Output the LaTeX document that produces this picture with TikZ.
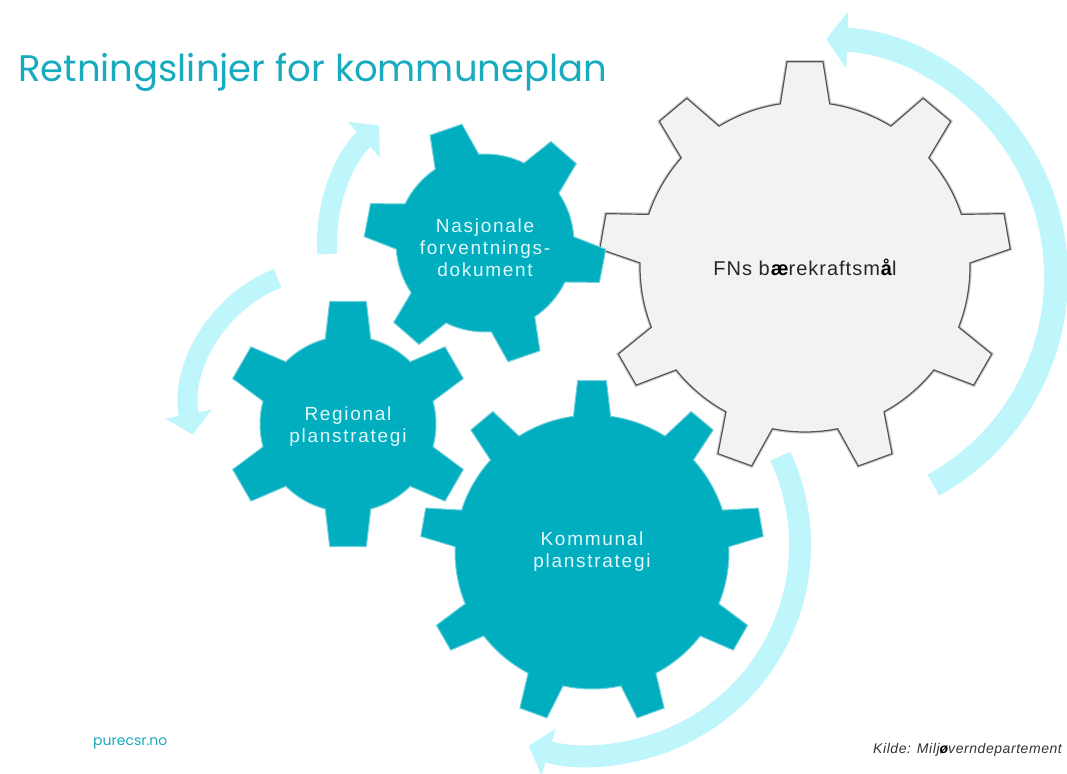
\documentclass[tikz,border=0pt]{standalone}
\usepackage{fontspec}
\setmainfont{Liberation Sans}
\newfontfamily\titlefont{Poppins}
\usetikzlibrary{arrows.meta,calc}

\definecolor{gearteal}{RGB}{0,174,192}
\definecolor{titleteal}{RGB}{24,170,190}
\definecolor{arrowcyan}{RGB}{190,246,252}
\definecolor{gearlight}{RGB}{242,242,242}
\definecolor{gearedge}{RGB}{85,85,85}
\definecolor{geartext}{RGB}{226,248,250}

% #1 centre, #2 teeth, #3 root radius, #4 tip radius, #5 turn, #6 half angle at root, #7 half angle at tip
\newcommand{\cogpath}[7]{%
  ($(#1)+({#5-#6}:#3)$)
  \foreach \k in {1,...,#2}{
    -- ($(#1)+({#5+(\k-1)*360/#2-#7}:#4)$)
    -- ($(#1)+({#5+(\k-1)*360/#2+#7}:#4)$)
    -- ($(#1)+({#5+(\k-1)*360/#2+#6}:#3)$)
    arc[start angle={#5+(\k-1)*360/#2+#6}, end angle={#5+\k*360/#2-#6}, radius=#3pt]
  } -- cycle}

\tikzset{
  cog/.style={fill=gearteal,draw=gearteal!55!white,line width=1pt},
  bigcog/.style={fill=gearlight,draw=gearedge,line width=1.2pt,preaction={draw=gray!40,line width=3.5pt}},
  cyclearrow/.style 2 args={draw=arrowcyan,line width=#1,-{Triangle[width=#2,length=21pt]}},
  cogtext/.style={text=geartext,align=center,font=\fontsize{19}{22}\selectfont\addfontfeatures{LetterSpace=9}}
}

\begin{document}
\begin{tikzpicture}[x=1pt,y=1pt]

\useasboundingbox (0,0) rectangle (1067,773);

\coordinate (fnsc) at (805,506);
\coordinate (nasc) at (485,530);
\coordinate (regc) at (348,349);
\coordinate (komc) at (592,221);

% arrows round the cogs
\draw[cyclearrow={24pt}{56pt}] ([shift={(-61:238)}]818,496) arc[start angle=-61, end angle=88, radius=238pt];
\draw[cyclearrow={22pt}{48pt}] ([shift={(25:210)}]590,228) arc[start angle=25, end angle=-107, radius=210pt];
\draw[cyclearrow={20pt}{47pt}] ([shift={(184:158)}]nasc) arc[start angle=184, end angle=132, radius=158pt];
\draw[cyclearrow={20pt}{46pt}] ([shift={(112:140)}]330,365) arc[start angle=112, end angle=191, radius=140pt];

% cogs
\draw[bigcog] \cogpath{fnsc}{9}{165}{206}{10}{8.6}{5};
\draw[cog] \cogpath{nasc}{6}{89}{121}{-11}{15}{8};
\draw[cog] \cogpath{regc}{6}{88}{124}{90}{15}{8.5};
\draw[cog] \cogpath{komc}{9}{137}{172}{10}{7.8}{4.8};

\node[font=\fontsize{20}{24}\selectfont\addfontfeatures{LetterSpace=5},text=black!85] (fns) at (fnsc) {FNs b\textbf{\color{black}æ}rekraftsm\textbf{\color{black}å}l};
\node[cogtext] (nasjonale) at (485,525) {Nasjonale\\forventnings-\\dokument};
\node[cogtext] (regional) at (348,346) {Regional\\planstrategi};
\node[cogtext] (kommunal) at (592,221) {Kommunal\\planstrategi};

\node[anchor=base west,inner sep=0pt,text=titleteal,font=\titlefont\fontsize{37}{44}\selectfont] (title) at (18,691) {Retningslinjer for kommuneplan};
\node[anchor=west,inner sep=0pt,text=titleteal,font=\titlefont\fontsize{14}{16}\selectfont] (web) at (93,30) {purecsr.no};
\node[anchor=west,inner sep=0pt,text=black!80,font=\fontsize{14}{16}\selectfont\itshape\addfontfeatures{LetterSpace=4}] (kilde) at (873,23) {Kilde: Milj\textbf{\color{black}ø}verndepartement};

\end{tikzpicture}
\end{document}
